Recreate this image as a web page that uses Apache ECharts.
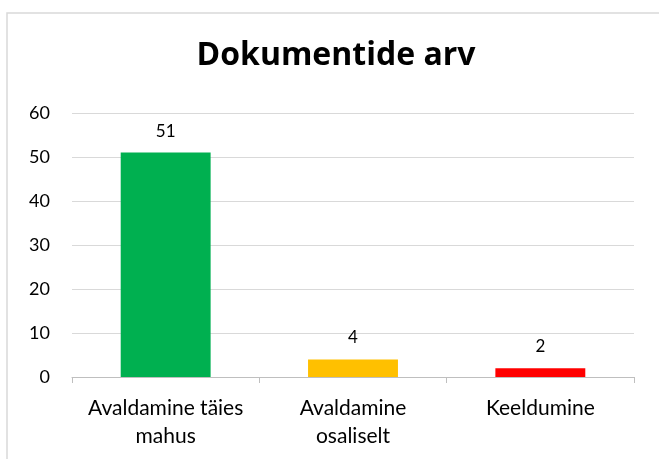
<!DOCTYPE html>
<html>
<head>
<meta charset="utf-8">
<script src="https://cdn.jsdelivr.net/npm/echarts@6/dist/echarts.min.js"></script>
<style>
  html, body { margin: 0; padding: 0; background: #fff; }
  #chart { width: 659px; height: 459px; }
</style>
</head>
<body>
<div id="chart"></div>
<script>
// andmed
var categories = ['Avaldamine täies\nmahus', 'Avaldamine\nosaliselt', 'Keeldumine'];
var values = [51, 4, 2];
var barColors = ['#00B050', '#FFC000', '#FF0000'];
var yTicks = [0, 10, 20, 30, 40, 50, 60];

var myChart = echarts.init(document.getElementById('chart'));

var option = {
    backgroundColor: '#fff',
    animation: false,
    title: {
        text: 'Dokumentide arv',
        left: 331,
        textAlign: 'center',
        top: 35,
        textStyle: {
            fontFamily: 'Open Sans',
            fontWeight: 'bold',
            fontSize: 32,
            color: '#000'
        }
    },
    graphic: [
        {
            type: 'rect',
            shape: { x: 7, y: 13, width: 700, height: 500 },
            style: { fill: 'none', stroke: '#d9d9d9', lineWidth: 1.5 },
            silent: true
        }
    ],
    grid: {
        left: 72,
        right: 25,
        top: 113,
        bottom: 82
    },
    xAxis: {
        type: 'category',
        data: categories,
        axisLine: { lineStyle: { color: '#bfbfbf', width: 1 } },
        axisTick: { show: true, length: 6, lineStyle: { color: '#bfbfbf' } },
        axisLabel: {
            color: '#000',
            fontFamily: 'Lato',
            fontSize: 21,
            lineHeight: 28,
            margin: 17,
            interval: 0
        }
    },
    yAxis: {
        type: 'value',
        min: yTicks[0],
        max: yTicks[yTicks.length - 1],
        interval: 10,
        axisLine: { show: false },
        axisTick: { show: false },
        splitLine: { lineStyle: { color: '#d9d9d9', width: 1 } },
        axisLabel: {
            color: '#000',
            fontFamily: 'Lato',
            fontSize: 18,
            margin: 22
        }
    },
    series: [
        {
            type: 'bar',
            barWidth: '48%',
            data: values.map(function (v, i) {
                return { value: v, itemStyle: { color: barColors[i] } };
            }),
            label: {
                show: true,
                position: 'top',
                distance: 13,
                color: '#000',
                fontFamily: 'Lato',
                fontSize: 17
            }
        }
    ]
};
myChart.setOption(option);
</script>
</body>
</html>
